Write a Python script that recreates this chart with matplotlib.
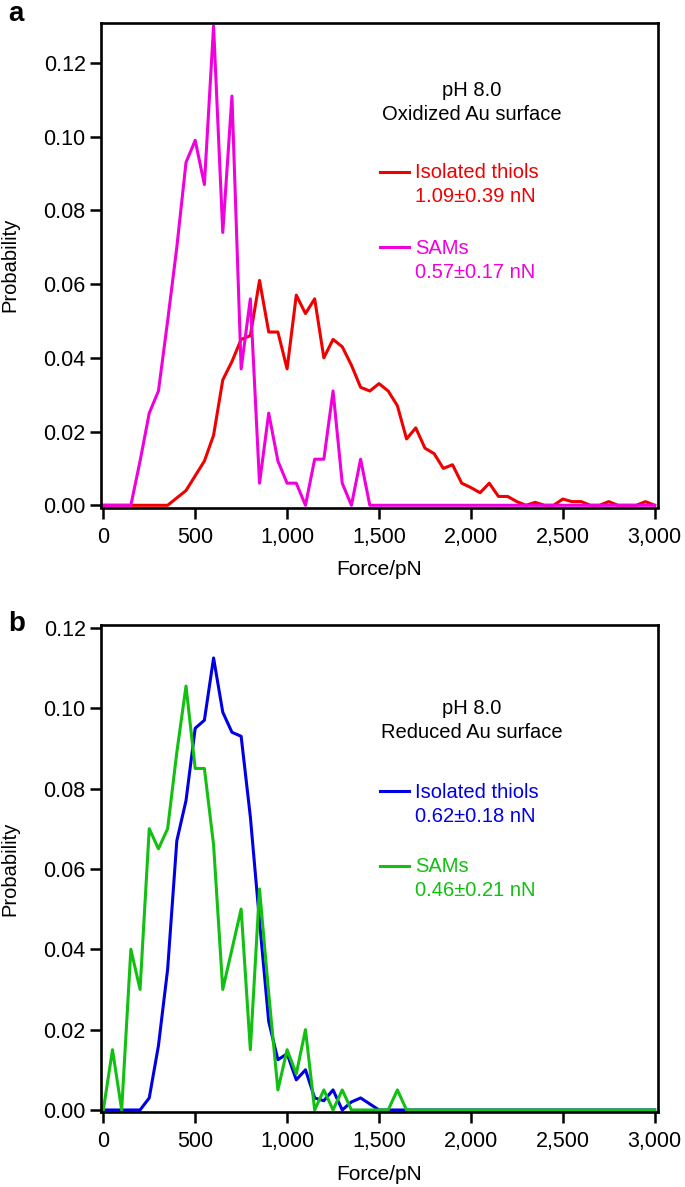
import numpy as np
import matplotlib
matplotlib.use('Agg')
import matplotlib.pyplot as plt
from matplotlib.lines import Line2D

plt.rcParams['font.family'] = ['Liberation Sans', 'DejaVu Sans']

# bins of 50 pN, 0 .. 3000
bin_width = 50

# panel a: oxidized Au surface
thiols_ox = [0, 0, 0, 0, 0, 0, 0, 0, 0.002, 0.004,
             0.008, 0.012, 0.019, 0.034, 0.039, 0.045, 0.046, 0.061, 0.047, 0.047,
             0.037, 0.057, 0.052, 0.056, 0.040, 0.045, 0.043, 0.038, 0.032, 0.031,
             0.033, 0.031, 0.027, 0.018, 0.021, 0.0155, 0.014, 0.010, 0.011, 0.006,
             0.0048, 0.0034, 0.006, 0.0024, 0.0024, 0.001, 0, 0.0008, 0, 0,
             0.0017, 0.001, 0.001, 0, 0, 0.001, 0, 0, 0, 0.001,
             0]
sams_ox = [0, 0, 0, 0, 0.012, 0.025, 0.031, 0.050, 0.070, 0.093,
           0.099, 0.087, 0.130, 0.074, 0.111, 0.037, 0.056, 0.006, 0.025, 0.012,
           0.006, 0.006, 0, 0.0125, 0.0125, 0.031, 0.006, 0, 0.0125, 0,
           0, 0, 0, 0, 0, 0, 0, 0, 0, 0,
           0, 0, 0, 0, 0, 0, 0, 0, 0, 0,
           0, 0, 0, 0, 0, 0, 0, 0, 0, 0,
           0]

# panel b: reduced Au surface
thiols_red = [0, 0, 0, 0, 0, 0.003, 0.016, 0.035, 0.067, 0.077,
              0.095, 0.097, 0.1125, 0.099, 0.094, 0.093, 0.073, 0.047, 0.022, 0.0125,
              0.014, 0.0075, 0.010, 0.003, 0.0023, 0.005, 0, 0.002, 0.003, 0.0015,
              0, 0, 0, 0, 0, 0, 0, 0, 0, 0,
              0, 0, 0, 0, 0, 0, 0, 0, 0, 0,
              0, 0, 0, 0, 0, 0, 0, 0, 0, 0,
              0]
sams_red = [0, 0.015, 0, 0.040, 0.030, 0.070, 0.065, 0.070, 0.089, 0.1055,
            0.085, 0.085, 0.066, 0.030, 0.040, 0.050, 0.015, 0.055, 0.029, 0.005,
            0.015, 0.009, 0.020, 0, 0.005, 0, 0.005, 0, 0, 0,
            0, 0, 0.005, 0, 0, 0, 0, 0, 0, 0,
            0, 0, 0, 0, 0, 0, 0, 0, 0, 0,
            0, 0, 0, 0, 0, 0, 0, 0, 0, 0,
            0]

force = np.arange(len(thiols_ox)) * bin_width

xticks = [0, 500, 1000, 1500, 2000, 2500, 3000]
xtick_labels = ['0', '500', '1,000', '1,500', '2,000', '2,500', '3,000']
yticks = [0, 0.02, 0.04, 0.06, 0.08, 0.10, 0.12]
ytick_labels = ['0.00', '0.02', '0.04', '0.06', '0.08', '0.10', '0.12']

RED = '#f00000'
MAG = '#f000dc'
BLUE = '#0000e6'
GREEN = '#12c012'

W, H = 685, 1187
fig = plt.figure(figsize=(W / 100, H / 100), dpi=100)


def fx(px):
    return px / W


def fy(py):
    return 1 - py / H


ax_a = fig.add_axes([fx(101), fy(507.5), 557 / W, (507.5 - 22.7) / H])
ax_b = fig.add_axes([fx(101), fy(1112), 557 / W, (1112 - 625) / H])


def style(ax, ylim):
    ax.set_xlim(-12.5, 3018)
    ax.set_ylim(*ylim)
    ax.set_xticks(xticks)
    ax.set_xticklabels(xtick_labels)
    ax.set_yticks(yticks)
    ax.set_yticklabels(ytick_labels)
    for s in ax.spines.values():
        s.set_linewidth(1.9)
    ax.tick_params(direction='out', length=8, width=1.8, labelsize=15.5)
    ax.tick_params(axis='x', pad=6)
    ax.tick_params(axis='y', pad=3)
    ax.set_xlabel('Force/pN', fontsize=15, labelpad=9)
    ax.set_ylabel('Probability', fontsize=14.5)
    ax.yaxis.set_label_coords((19 - 101) / 557, 0.5)


ax_a.plot(force, thiols_ox, color=RED, lw=2.2)
ax_a.plot(force, sams_ox, color=MAG, lw=2.2)
style(ax_a, (-0.0006, 0.1309))

ax_b.plot(force, thiols_red, color=BLUE, lw=2.2)
ax_b.plot(force, sams_red, color=GREEN, lw=2.2)
style(ax_b, (-0.0005, 0.1207))


# annotations
def block(y0, title2, c1, t1, v1, c2, t2, v2):
    fig.text(fx(472), fy(y0), 'pH 8.0', ha='center', va='center', fontsize=14.5)
    fig.text(fx(472), fy(y0 + 24), title2, ha='center', va='center', fontsize=14.5)
    yl1 = y0 + 82
    yl2 = y0 + 157
    for yl, c, t, v in [(yl1, c1, t1, v1), (yl2, c2, t2, v2)]:
        fig.add_artist(Line2D([fx(380), fx(409)], [fy(yl), fy(yl)], color=c, lw=2.2))
        fig.text(fx(415), fy(yl + 1), t, color=c, ha='left', va='center', fontsize=14.5)
        fig.text(fx(415), fy(yl + 25), v, color=c, ha='left', va='center', fontsize=14.5)


block(90, 'Oxidized Au surface', RED, 'Isolated thiols', '1.09\u00b10.39 nN',
      MAG, 'SAMs', '0.57\u00b10.17 nN')
block(709, 'Reduced Au surface', BLUE, 'Isolated thiols', '0.62\u00b10.18 nN',
      GREEN, 'SAMs', '0.46\u00b10.21 nN')

fig.text(fx(8), fy(14), 'a', fontsize=20, fontweight='bold', va='center', ha='left')
fig.text(fx(8), fy(624), 'b', fontsize=20, fontweight='bold', va='center', ha='left')

fig.savefig('out.png', dpi=100)
